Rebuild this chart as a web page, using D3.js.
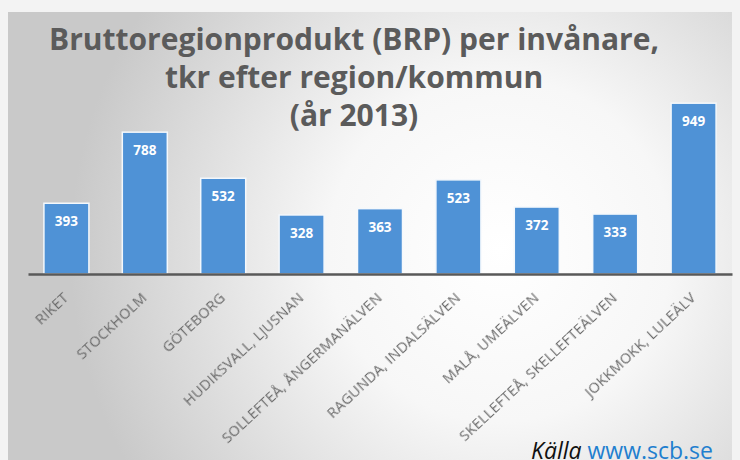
<!DOCTYPE html>
<html>
<head>
<meta charset="utf-8">
<script src="https://cdn.jsdelivr.net/npm/d3@7"></script>
<style>
  body { margin: 0; background: #fff; }
  svg { display: block; }
</style>
</head>
<body>
<div id="chart"></div>
<script>
// BRP per invånare, tkr (år 2013)
const regions = ["RIKET", "STOCKHOLM", "GÖTEBORG", "HUDIKSVALL, LJUSNAN",
  "SOLLEFTEÅ, ÅNGERMANÄLVEN", "RAGUNDA, INDALSÄLVEN", "MALÅ, UMEÄLVEN",
  "SKELLEFTEÅ, SKELLEFTEÄLVEN", "JOKKMOKK, LULEÄLV"];
const brp = [393, 788, 532, 328, 363, 523, 372, 333, 949];
const titleLines = ["Bruttoregionprodukt (BRP) per invånare,",
  "tkr efter region/kommun", "(år 2013)"];

const width = 740, height = 460;
const margin = {top: 94, right: 8, bottom: 186, left: 28};

const svg = d3.select("#chart").append("svg")
    .attr("width", width)
    .attr("height", height);

// panel background, light in the middle and gray towards the edges
const defs = svg.append("defs");
const grad = defs.append("radialGradient")
    .attr("id", "bg")
    .attr("gradientUnits", "userSpaceOnUse")
    .attr("cx", 500).attr("cy", 250).attr("r", 430);
grad.append("stop").attr("offset", "0%").attr("stop-color", "#ffffff");
grad.append("stop").attr("offset", "40%").attr("stop-color", "#f7f7f7");
grad.append("stop").attr("offset", "100%").attr("stop-color", "#c9c9c9");

svg.append("rect")
    .attr("width", width).attr("height", height)
    .attr("fill", "#f3f3f3");
svg.append("rect")
    .attr("x", 8).attr("y", 12)
    .attr("width", 724).attr("height", height - 12)
    .attr("fill", "url(#bg)");

// title
svg.append("g")
    .selectAll("text")
    .data(titleLines)
    .join("text")
    .attr("x", 354)
    .attr("y", (d, i) => 50 + i * 38)
    .attr("text-anchor", "middle")
    .attr("font-family", "'Open Sans', sans-serif")
    .attr("font-weight", "bold")
    .attr("font-size", 30)
    .attr("fill", "#5b5b5b")
    .text(d => d);

const x = d3.scaleBand()
    .domain(regions)
    .range([margin.left, width - margin.right])
    .paddingInner(0.426)
    .paddingOuter(0.203);

const y = d3.scaleLinear()
    .domain([0, 1000])
    .range([height - margin.bottom, margin.top]);

// bars
svg.append("g")
    .selectAll("rect")
    .data(brp)
    .join("rect")
    .attr("x", (d, i) => x(regions[i]))
    .attr("y", d => y(d))
    .attr("width", x.bandwidth())
    .attr("height", d => y(0) - y(d))
    .attr("fill", "#4f92d6")
    .attr("stroke", "#f4f8fc")
    .attr("stroke-width", 1.5);

// value labels inside the bars
svg.append("g")
    .selectAll("text")
    .data(brp)
    .join("text")
    .attr("x", (d, i) => x(regions[i]) + x.bandwidth() / 2)
    .attr("y", d => y(d) + 23)
    .attr("text-anchor", "middle")
    .attr("font-family", "'Open Sans', sans-serif")
    .attr("font-weight", "bold")
    .attr("font-size", 13.5)
    .attr("fill", "#ffffff")
    .text(d => d);

// soft shadow for the category labels
const shadow = defs.append("filter").attr("id", "soft");
shadow.append("feGaussianBlur").attr("stdDeviation", 0.35);

// x axis
const xAxis = svg.append("g")
    .attr("transform", `translate(0,${y(0)})`)
    .call(d3.axisBottom(x).tickSize(0).tickSizeOuter(0));
xAxis.select(".domain")
    .attr("stroke", "#595959")
    .attr("stroke-width", 2.5);
xAxis.selectAll(".tick text")
    .attr("font-family", "'Open Sans', sans-serif")
    .attr("font-size", 14.5)
    .attr("letter-spacing", 0.2)
    .attr("fill", "#6a6a6a")
    .attr("filter", "url(#soft)")
    .attr("text-anchor", "end")
    .attr("dy", 0)
    .attr("y", 0)
    .attr("x", 0)
    .attr("transform", "translate(3,25) rotate(-43)");

// source
const src = svg.append("text")
    .attr("x", 713)
    .attr("y", 459)
    .attr("text-anchor", "end")
    .attr("font-family", "'Open Sans', sans-serif")
    .attr("font-size", 23);
src.append("tspan")
    .attr("font-style", "italic")
    .attr("fill", "#111")
    .text("Källa ");
src.append("tspan")
    .attr("fill", "#1f7fcf")
    .text("www.scb.se");
</script>
</body>
</html>
